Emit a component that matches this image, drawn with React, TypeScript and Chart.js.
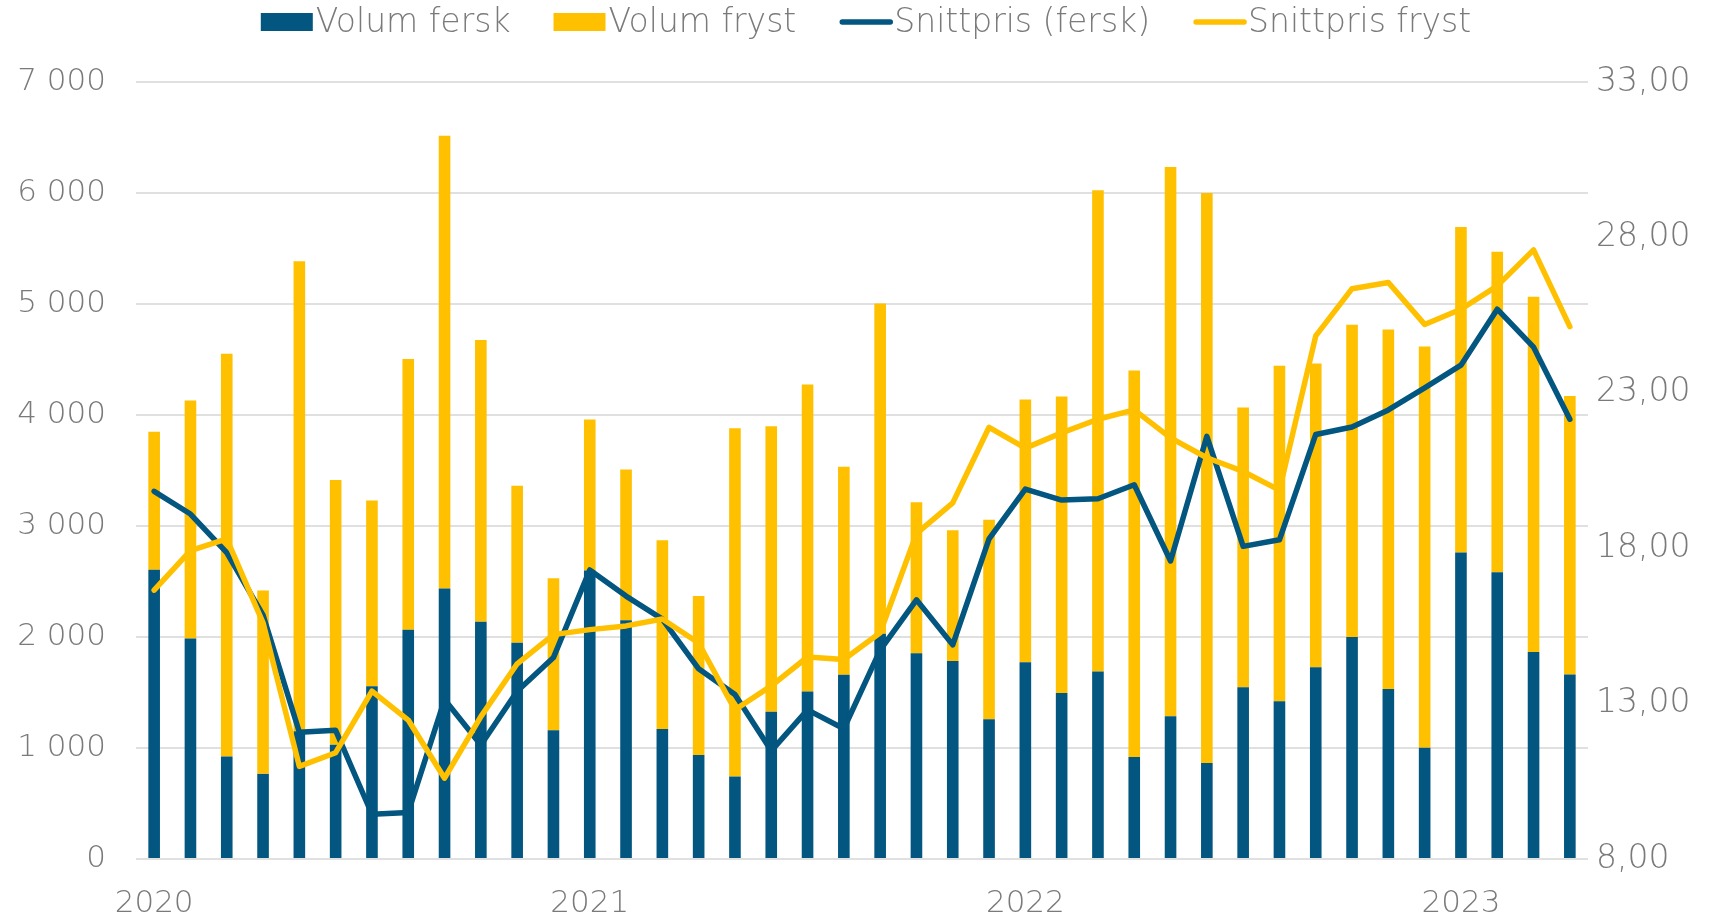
import React, { useEffect, useRef } from "react";
import { Chart, registerables } from "chart.js";

Chart.register(...registerables);

const categories = [
  "2020-01", "2020-02", "2020-03", "2020-04", "2020-05", "2020-06", "2020-07", "2020-08", "2020-09", "2020-10", "2020-11", "2020-12",
  "2021-01", "2021-02", "2021-03", "2021-04", "2021-05", "2021-06", "2021-07", "2021-08", "2021-09", "2021-10", "2021-11", "2021-12",
  "2022-01", "2022-02", "2022-03", "2022-04", "2022-05", "2022-06", "2022-07", "2022-08", "2022-09", "2022-10", "2022-11", "2022-12",
  "2023-01", "2023-02", "2023-03", "2023-04",
];

const volumFersk = [
  2606, 1986, 924, 767, 1150, 1030, 1557, 2065, 2437, 2138, 1948, 1160,
  2600, 2150, 1172, 938, 743, 1326, 1508, 1659, 2030, 1853, 1783, 1258,
  1773, 1496, 1690, 919, 1287, 864, 1548, 1422, 1728, 2000, 1531, 1003,
  2762, 2583, 1864, 1663,
];

const volumFryst = [
  1244, 2144, 3628, 1652, 4236, 2385, 1673, 2440, 4078, 2537, 1415, 1370,
  1360, 1360, 1699, 1431, 3137, 2572, 2767, 1875, 2975, 1360, 1178, 1798,
  2367, 2670, 4335, 3481, 4948, 5136, 2520, 3021, 2736, 2813, 3240, 3614,
  2931, 2887, 3202, 2508,
];

const snittprisFersk = [
  19.83, 19.1, 17.86, 15.85, 12.08, 12.14, 9.44, 9.5, 13.13, 11.67, 13.4, 14.48,
  17.3, 16.46, 15.72, 14.12, 13.29, 11.48, 12.8, 12.19, 14.72, 16.34, 14.89, 18.3,
  19.9, 19.55, 19.59, 20.04, 17.59, 21.6, 18.06, 18.27, 21.66, 21.9, 22.45, 23.16,
  23.89, 25.69, 24.47, 22.15,
];

const snittprisFryst = [
  16.65, 17.92, 18.3, 15.6, 10.98, 11.42, 13.4, 12.47, 10.6, 12.58, 14.28, 15.22,
  15.38, 15.5, 15.72, 14.95, 12.8, 13.57, 14.5, 14.42, 15.28, 18.47, 19.46, 21.89,
  21.22, 21.71, 22.15, 22.45, 21.55, 20.91, 20.47, 19.87, 24.83, 26.35, 26.55, 25.2,
  25.69, 26.44, 27.6, 25.13,
];

const seriesNames = ["Volum fersk", "Volum fryst", "Snittpris (fersk)", "Snittpris fryst"];

const BLUE = "#02567f";
const YELLOW = "#ffc000";
const TEXT = "#7a7a7a";
const GRID = "#e0e0e0";
const FONT_FAMILY = "'DejaVu Sans', sans-serif";
const FONT_WEIGHT = "200";
const FONT_SIZE = 31;
const LEGEND_FONT_SIZE = 33;
const LINE_W = 5.5;

const W = 1711;
const H = 917;

const legendPlugin = {
  id: "customLegend",
  afterDraw(chart: any) {
    const ctx = chart.ctx as CanvasRenderingContext2D;
    const ds = chart.data.datasets;
    ctx.save();
    ctx.font = `${FONT_WEIGHT} ${LEGEND_FONT_SIZE}px ${FONT_FAMILY}`;
    ctx.textBaseline = "middle";
    ctx.textAlign = "left";
    const symW = 54;
    const symGap = 1;
    const itemGap = 43;
    const widths = ds.map((d: any) => ctx.measureText(d.label).width);
    const total =
      widths.reduce((a: number, b: number) => a + b, 0) +
      ds.length * (symW + symGap) +
      (ds.length - 1) * itemGap;
    const ca = chart.chartArea;
    let x = (ca.left + ca.right) / 2 - total / 2 + 4;
    const y = 22;
    ds.forEach((d: any, i: number) => {
      if (d.type === "line") {
        ctx.strokeStyle = d.borderColor;
        ctx.lineWidth = LINE_W;
        ctx.lineCap = "round";
        ctx.beginPath();
        ctx.moveTo(x + 3, y);
        ctx.lineTo(x + symW - 3, y);
        ctx.stroke();
      } else {
        ctx.fillStyle = d.backgroundColor;
        ctx.fillRect(x, y - 9, symW - 2, 18);
      }
      x += symW + symGap;
      ctx.fillStyle = TEXT;
      ctx.fillText(d.label, x, y + 1);
      x += widths[i] + itemGap;
    });
    ctx.restore();
  },
};

export default function App() {
  const ref = useRef<HTMLCanvasElement | null>(null);

  useEffect(() => {
    if (!ref.current) return;
    const font = { family: FONT_FAMILY, size: FONT_SIZE, weight: FONT_WEIGHT as any };
    const chart = new Chart(ref.current, {
      type: "bar",
      data: {
        labels: categories,
        datasets: [
          {
            type: "bar",
            label: seriesNames[0],
            data: volumFersk,
            backgroundColor: BLUE,
            yAxisID: "y",
            stack: "vol",
            order: 2,
            barPercentage: 0.32,
            categoryPercentage: 1,
          },
          {
            type: "bar",
            label: seriesNames[1],
            data: volumFryst,
            backgroundColor: YELLOW,
            yAxisID: "y",
            stack: "vol",
            order: 3,
            barPercentage: 0.32,
            categoryPercentage: 1,
          },
          {
            type: "line",
            label: seriesNames[2],
            data: snittprisFersk,
            borderColor: BLUE,
            backgroundColor: BLUE,
            borderWidth: LINE_W,
            pointRadius: 0,
            tension: 0,
            borderCapStyle: "round",
            borderJoinStyle: "round",
            yAxisID: "y2",
            order: 1,
          },
          {
            type: "line",
            label: seriesNames[3],
            data: snittprisFryst,
            borderColor: YELLOW,
            backgroundColor: YELLOW,
            borderWidth: LINE_W,
            pointRadius: 0,
            tension: 0,
            borderCapStyle: "round",
            borderJoinStyle: "round",
            yAxisID: "y2",
            order: 0,
          },
        ] as any,
      },
      options: {
        responsive: false,
        animation: false,
        layout: { padding: { top: 82, left: 0, right: 0, bottom: 0 } },
        plugins: {
          legend: { display: false },
          tooltip: { enabled: false },
        },
        scales: {
          x: {
            stacked: true,
            grid: { display: false, drawTicks: false },
            border: { display: false },
            ticks: {
              autoSkip: false,
              maxRotation: 0,
              minRotation: 0,
              padding: 26,
              color: TEXT,
              font,
              callback: (_v: any, i: number) =>
                categories[i].endsWith("-01") ? categories[i].slice(0, 4) : "",
            },
            afterFit: (s: any) => {
              s.height = 58;
            },
          },
          y: {
            stacked: true,
            position: "left",
            min: 0,
            max: 7000,
            grid: { color: GRID, lineWidth: 2, drawTicks: false },
            border: { display: false },
            ticks: {
              stepSize: 1000,
              padding: 30,
              color: TEXT,
              font,
              callback: (v: any) => {
                const n = Number(v);
                return n >= 1000 ? `${Math.floor(n / 1000)} ${String(n % 1000).padStart(3, "0")}` : String(n);
              },
            },
            afterFit: (s: any) => {
              s.width = 136;
            },
          },
          y2: {
            position: "right",
            min: 8,
            max: 33,
            grid: { display: false, drawTicks: false },
            border: { display: false },
            ticks: {
              stepSize: 5,
              padding: 8,
              color: TEXT,
              font: { ...font, size: 33 },
              callback: (v: any) => Number(v).toFixed(2).replace(".", ","),
            },
            afterFit: (s: any) => {
              s.width = W - 1588;
            },
          },
        },
      },
      plugins: [legendPlugin],
    });
    return () => chart.destroy();
  }, []);

  return (
    <div style={{ position: "fixed", left: 0, top: 0, width: W, height: H, background: "#fff" }}>
      <canvas ref={ref} width={W} height={H} style={{ width: W, height: H, display: "block" }} />
    </div>
  );
}
